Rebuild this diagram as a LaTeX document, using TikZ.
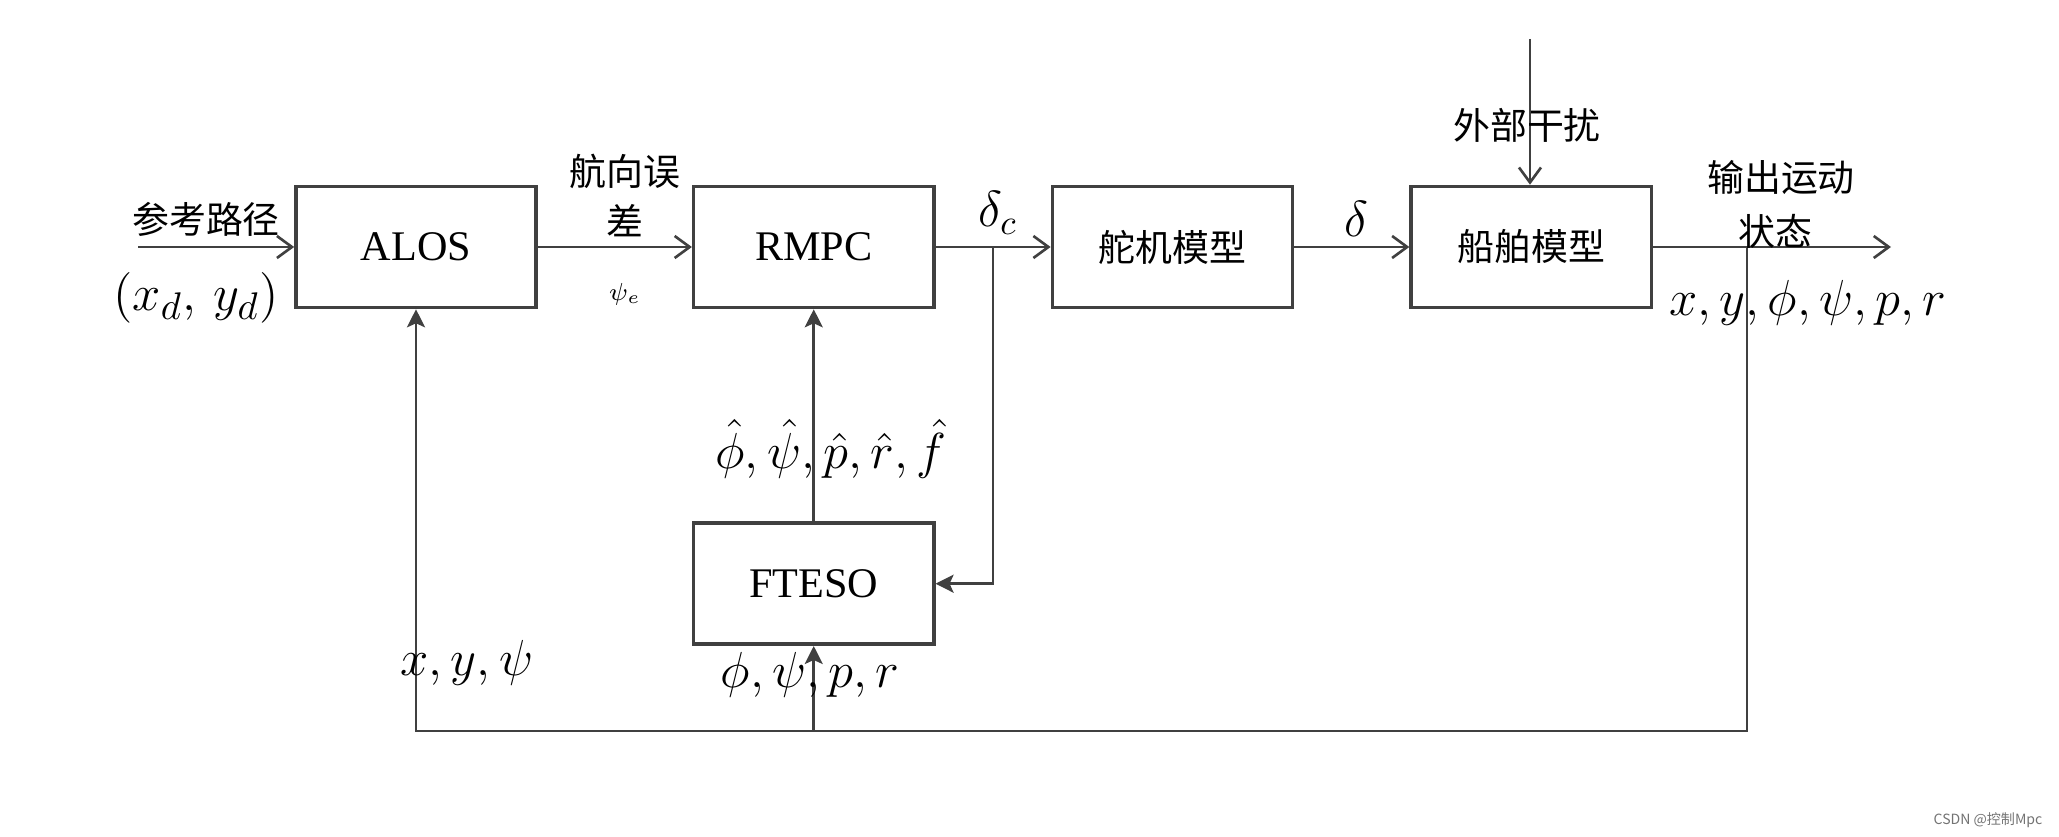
\documentclass[tikz,border=0pt]{standalone}
\usepackage{fontspec}
\setmainfont{Liberation Serif}
\newfontfamily\cjk{Noto Sans CJK SC}
\usetikzlibrary{arrows.meta,calc,positioning}

\begin{document}
\begin{tikzpicture}[
    x=0.01cm, y=-0.01cm,
    ln/.style={draw=black!75, line width=0.75pt},
    open/.style={ln, -{Straight Barb[length=1.5mm, width=2.2mm, line width=0.75pt]}},
    tri/.style={ln, -{Stealth[length=1.8mm, width=1.8mm, inset=0.4mm]}},
    blk/.style={draw=black!75, line width=1pt, minimum width=2.40cm, minimum height=1.21cm, inner sep=2pt, font=\fontsize{12}{14}\selectfont},
    zblk/.style={blk, font=\cjk\fontsize{10.5}{12}\selectfont},
    zh/.style={font=\cjk\fontsize{10.5}{12}\selectfont, inner sep=1pt},
    sym/.style={font=\fontsize{14}{16}\selectfont, inner sep=1pt},
]
\useasboundingbox (0,0) rectangle (2059,837);

% blocks on the main path
\node[blk] (alos) at (416,247) {ALOS};
\node[blk, right=1.54cm of alos] (rmpc) {RMPC};
\node[zblk, right=1.15cm of rmpc] (servo) {舵机模型};
\node[zblk, right=1.15cm of servo] (ship) {船舶模型};
\node[blk, below=2.12cm of rmpc] (eso) {FTESO};

% free ends and branch points
\coordinate (in) at (138,247);
\coordinate (out) at (1891,247);
\coordinate (dist) at (1530,39);
\coordinate (br) at (993,247);
\coordinate (fb) at (1747,247);
\coordinate (fbd) at (1747,731);

% main path
\draw[open] (in) -- (alos);
\draw[open] (alos) -- (rmpc);
\draw[open] (rmpc) -- (servo);
\draw[open] (servo) -- (ship);
\draw[open] (ship) -- (out);
\draw[open] (dist) -- (dist|-ship.north);

% observer and feedback
\draw[tri] (br) |- (eso.east);
\draw[tri] (eso) -- (rmpc);
\draw[tri] (fb) -- (fbd) -| (alos.south);
\draw[tri] (eso.south|-fbd) -- (eso.south);

% labels
\node[zh] (refl) at (206,219) {参考路径};
\node[font=\fontsize{15}{18}\selectfont] (xd) at (196,298) {$\bigl(x_d,\,y_d\bigr)$};
\node[zh] (err1) at (625,171) {航向误};
\node[zh] (err2) at (625,221) {差};
\node[font=\fontsize{7}{8}\selectfont] (psie) at (625,294) {$\psi_e$};
\node[sym] (dc) at (998,213) {$\delta_c$};
\node[sym] (dl) at (1356,219) {$\delta$};
\node[zh] (distl) at (1527,125) {外部干扰};
\node[zh] (outl1) at (1781,177) {输出运动};
\node[zh] (outl2) at (1775,231) {状态};
\node[sym] (st) at (1808,303) {$x,y,\phi,\psi,p,r$};
\node[sym] (est) at (831,449) {$\hat{\phi},\hat{\psi},\hat{p},\hat{r},\hat{f}$};
\node[sym] (meas) at (810,675) {$\phi,\psi,p,r$};
\node[sym] (pos) at (467,663) {$x,y,\psi$};

\node[font=\cjk\fontsize{4}{5}\selectfont, text=black!55] (mark) at (1988,820) {CSDN @控制Mpc};
\end{tikzpicture}
\end{document}
